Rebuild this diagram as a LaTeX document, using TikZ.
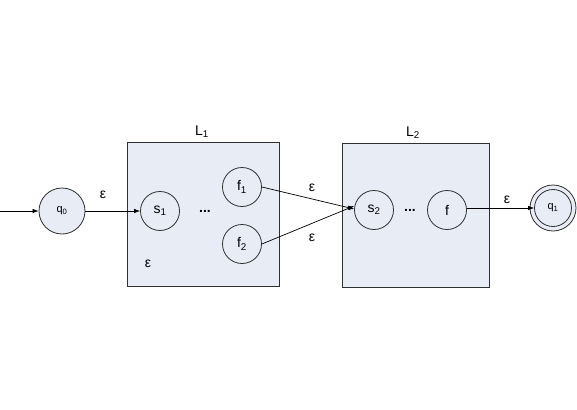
\documentclass[tikz,border=0pt]{standalone}
\usepackage{fontspec}
\setmainfont{Liberation Sans}
\usetikzlibrary{arrows.meta}
\definecolor{boxfill}{HTML}{E8ECF5}
\definecolor{edge}{HTML}{303030}
\tikzset{
  state/.style={circle, draw=edge, fill=boxfill, line width=0.8pt, minimum size=#1, inner sep=0pt, font=\fontsize{14}{16}\selectfont},
  state/.default=39pt,
  langbox/.style={draw=edge, fill=boxfill, line width=0.8pt},
  trans/.style={-{Latex[length=6pt,width=4.5pt]}, line width=0.7pt, draw=black},
  lbl/.style={font=\fontsize{14}{16}\selectfont, inner sep=0pt},
}
\begin{document}
\begin{tikzpicture}[x=1pt,y=-1pt]
\useasboundingbox (0,0) rectangle (577,409);
% boxes
\draw[langbox] (127,142) rectangle (279,286);
\draw[langbox] (342,143) rectangle (489,287);
\node[lbl] (L1) at (202,132) {L\textsubscript{1}};
\node[lbl] (L2) at (413,133) {L\textsubscript{2}};
% states
\node[state=46pt, font=\fontsize{11}{12}\selectfont] (q0) at (62,211) {q\textsubscript{0}};
\node[state] (s1) at (160,211) {s\textsubscript{1}};
\node[state] (f1) at (242,187) {f\textsubscript{1}};
\node[state] (f2) at (242,244) {f\textsubscript{2}};
\node[state] (s2) at (374,210) {s\textsubscript{2}};
\node[state] (f) at (447,210) {f};
\node[state=46pt, font=\fontsize{11}{12}\selectfont] (q1) at (553,208) {q\textsubscript{1}};
\node[circle, draw=edge, line width=0.8pt, minimum size=37pt, inner sep=0pt] (q1in) at (q1) {};
\node[lbl] (d1) at (205,211) {\textbf{...}};
\node[lbl] (d2) at (410,210) {\textbf{...}};
% start
\coordinate (start) at (0,211);
\draw[trans] (start) -- (q0.west |- start);
% transitions
\draw[trans] (q0.east |- s1) -- (s1);
\draw[trans] (f1.east) -- ([yshift=1pt]s2.west) ;
\draw[trans] (f2.east) -- ([yshift=4pt]s2.west);
\draw[trans] (f.east |- q1) -- (q1in.west);
\node[lbl] (e1) at (103,195) {ε};
\node[lbl] (e2) at (312,188) {ε};
\node[lbl] (e3) at (312,238) {ε};
\node[lbl] (e4) at (507,200) {ε};
\node[lbl] (e5) at (148,264) {ε};
\end{tikzpicture}
\end{document}
